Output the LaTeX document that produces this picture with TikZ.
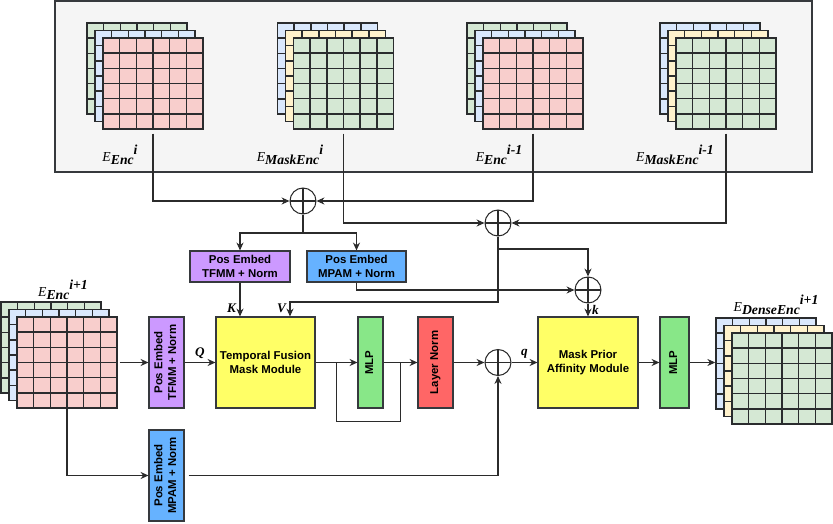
\documentclass[tikz,border=0pt]{standalone}
\usepackage{fontspec}
\setmainfont{Liberation Serif}
\newfontfamily\boxfont{Liberation Sans}
\usetikzlibrary{arrows.meta,positioning,calc}
\definecolor{edgec}{HTML}{36393D}
\definecolor{gridline}{HTML}{2A2C2E}
\definecolor{linec}{HTML}{2B2B2B}
\definecolor{panelgray}{HTML}{F5F5F5}
\definecolor{gridgreen}{HTML}{D5E8D4}
\definecolor{gridblue}{HTML}{DAE8FC}
\definecolor{gridred}{HTML}{F8CECC}
\definecolor{gridyellow}{HTML}{FFF2CC}
\definecolor{tfmmpurple}{HTML}{CC99FF}
\definecolor{mpamblue}{HTML}{66B2FF}
\definecolor{moduleyellow}{HTML}{FFFF66}
\definecolor{mlpgreen}{HTML}{88E788}
\definecolor{normred}{HTML}{FF6666}

\tikzset{
  conn/.style={draw=linec,line width=0.6pt},
  arr/.style={conn,-{Stealth[length=4.5pt,width=4pt]}},
  blockbox/.style={draw=edgec,line width=0.6pt,fill=#1,align=center,inner sep=1pt,
        font=\boxfont\bfseries\fontsize{6.5}{7.8}\selectfont},
  addop/.style={circle,draw=linec,line width=0.6pt,minimum size=0.52cm,inner sep=0pt,
        path picture={\draw[linec,line width=0.6pt]
          (path picture bounding box.north) -- (path picture bounding box.south)
          (path picture bounding box.west) -- (path picture bounding box.east);}},
  gridlayer/.style={draw=gridline,line width=0.8pt,fill=#1,minimum width=2cm,
        minimum height=1.82cm,inner sep=0pt,
        path picture={\foreach \k in {1,...,5}{
          \draw[gridline,line width=0.9pt]
            ($(path picture bounding box.south west)!\k/6!(path picture bounding box.south east)$)
            -- ($(path picture bounding box.north west)!\k/6!(path picture bounding box.north east)$)
            ($(path picture bounding box.south west)!\k/6!(path picture bounding box.north west)$)
            -- ($(path picture bounding box.south east)!\k/6!(path picture bounding box.north east)$);}}},
  embname/.style={font=\fontsize{7.8}{9}\selectfont},
  varlab/.style={font=\bfseries\itshape\fontsize{7.5}{9}\selectfont,inner sep=2pt}
}

% three stacked feature grids: name, x, y of front layer, back/middle/front fill
\newcommand{\gridstack}[6]{%
  \node[gridlayer=#4] (#1-a) at (#2-16,#3-15) {};
  \node[gridlayer=#5] (#1-b) at (#2-8,#3-7.5) {};
  \node[gridlayer=#6] (#1) at (#2,#3) {};}
\newcommand{\elab}[2]{\textit{E}\raisebox{-0.5ex}{\textbf{\textit{#1}}}\raisebox{1.1ex}{\textbf{\textit{#2}}}}
\newcommand{\vtext}[1]{\rotatebox{90}{\begin{tabular}{@{}c@{}}#1\end{tabular}}}

\begin{document}
\begin{tikzpicture}[x=0.02cm,y=-0.02cm]
  \useasboundingbox (0,0) rectangle (833,524);

  % encoder memory panel
  \draw[draw=edgec,line width=0.6pt,fill=panelgray] (55,1) rectangle (812,172);
  \gridstack{encI}{153}{83.5}{gridgreen}{gridblue}{gridred}
  \gridstack{mencI}{343.5}{83.5}{gridblue}{gridyellow}{gridgreen}
  \gridstack{encJ}{533}{83.5}{gridgreen}{gridblue}{gridred}
  \gridstack{mencJ}{726}{83.5}{gridblue}{gridyellow}{gridgreen}
  \node[embname] (lencI) at (120,155) {\elab{Enc}{i}};
  \node[embname] (lmencI) at (290,155) {\elab{MaskEnc}{i}};
  \node[embname] (lencJ) at (499,155) {\elab{Enc}{i-1}};
  \node[embname] (lmencJ) at (675,155) {\elab{MaskEnc}{i-1}};

  % input and output features
  \gridstack{ein}{67}{362.5}{gridgreen}{gridblue}{gridred}
  \gridstack{eout}{782}{378.5}{gridblue}{gridyellow}{gridgreen}
  \node[embname] (lein) at (63,290) {\elab{Enc}{i+1}};
  \node[embname] (leout) at (776,305) {\elab{DenseEnc}{i+1}};

  % adders
  \node[addop] (add1) at (303,201) {};
  \node[addop] (add2) at (498,223) {};
  \node[addop] (add3) at (588,290) {};
  \node[addop] (add4) at (498,362.5) {};

  % blocks
  \node[blockbox=tfmmpurple,minimum width=2cm,minimum height=0.62cm] (peK) at (240,266.5) {Pos Embed\\TFMM + Norm};
  \node[blockbox=mpamblue,minimum width=1.98cm,minimum height=0.62cm] (peM) at (356.5,266.5) {Pos Embed\\MPAM + Norm};
  \node[blockbox=tfmmpurple,minimum width=0.7cm,minimum height=1.82cm] (peQ) at (166.5,362.5) {\vtext{Pos Embed\\TFMM + Norm}};
  \node[blockbox=mpamblue,minimum width=0.7cm,minimum height=1.82cm] (peMq) at (166.5,475.5) {\vtext{Pos Embed\\MPAM + Norm}};
  \node[blockbox=moduleyellow,minimum width=1.98cm,minimum height=1.82cm] (tfm) at (265.5,362.5) {Temporal Fusion\\Mask Module};
  \node[blockbox=mlpgreen,minimum width=0.5cm,minimum height=1.82cm] (mlpA) at (370.5,362.5) {\vtext{MLP}};
  \node[blockbox=normred,minimum width=0.7cm,minimum height=1.82cm] (ln) at (435.5,362.5) {\vtext{Layer Norm}};
  \node[blockbox=moduleyellow,minimum width=2cm,minimum height=1.82cm] (mpam) at (588,362.5) {Mask Prior\\Affinity Module};
  \node[blockbox=mlpgreen,minimum width=0.58cm,minimum height=1.82cm] (mlpB) at (674.5,362.5) {\vtext{MLP}};

  \coordinate (split) at (303,233);
  \coordinate (vbend) at (290,302);
  \coordinate (kbranch) at (498,249);
  \coordinate (resA) at ($(tfm.east)!0.5!(mlpA.west)$);
  \coordinate (resB) at ($(mlpA.east)!0.5!(ln.west)$);

  % memory fusion
  \draw[arr,shorten <=0.08cm] (encI.south) |- (add1.west);
  \draw[arr,shorten <=0.08cm] (encJ.south) |- (add1.east);
  \draw[arr,shorten <=0.08cm] (mencI.south) |- (add2.west);
  \draw[arr,shorten <=0.08cm] (mencJ.south) |- (add2.east);
  \draw[conn] (add1.south) -- (split);
  \draw[arr] (split) -| (peK.north);
  \draw[arr] (split) -| (peM.north);
  \draw[arr] (peK.south) -- node[varlab,left,pos=0.75] {K} (peK.south |- tfm.north);
  \draw[arr] (add2.south) |- (vbend) -- node[varlab,left,pos=0.45] {V} (vbend |- tfm.north);
  \draw[arr] (kbranch) -| (add3.north);
  \draw[arr] (peM.south) |- (add3.west);
  \draw[arr] (add3.south) -- node[varlab,right,pos=0.5] {k} (mpam.north);

  % main path
  \draw[arr,shorten <=0.04cm] (ein.east) -- (peQ.west);
  \draw[arr] (peQ.east) -- node[varlab,above] {Q} (tfm.west);
  \draw[arr] (tfm.east) -- (mlpA.west);
  \draw[conn] (resA) -- ++(0,59) -| (resB);
  \draw[arr] (mlpA.east) -- (ln.west);
  \draw[arr] (ln.east) -- (add4.west);
  \draw[arr] (ein.south) |- (peMq.west);
  \draw[arr,shorten <=0.08cm] (peMq.east) -| (add4.south);
  \draw[arr] (add4.east) -- node[varlab,above] {q} (mpam.west);
  \draw[arr] (mpam.east) -- (mlpB.west);
  \draw[arr] (mlpB.east) -- (mlpB.east -| eout-a.west);
\end{tikzpicture}
\end{document}
